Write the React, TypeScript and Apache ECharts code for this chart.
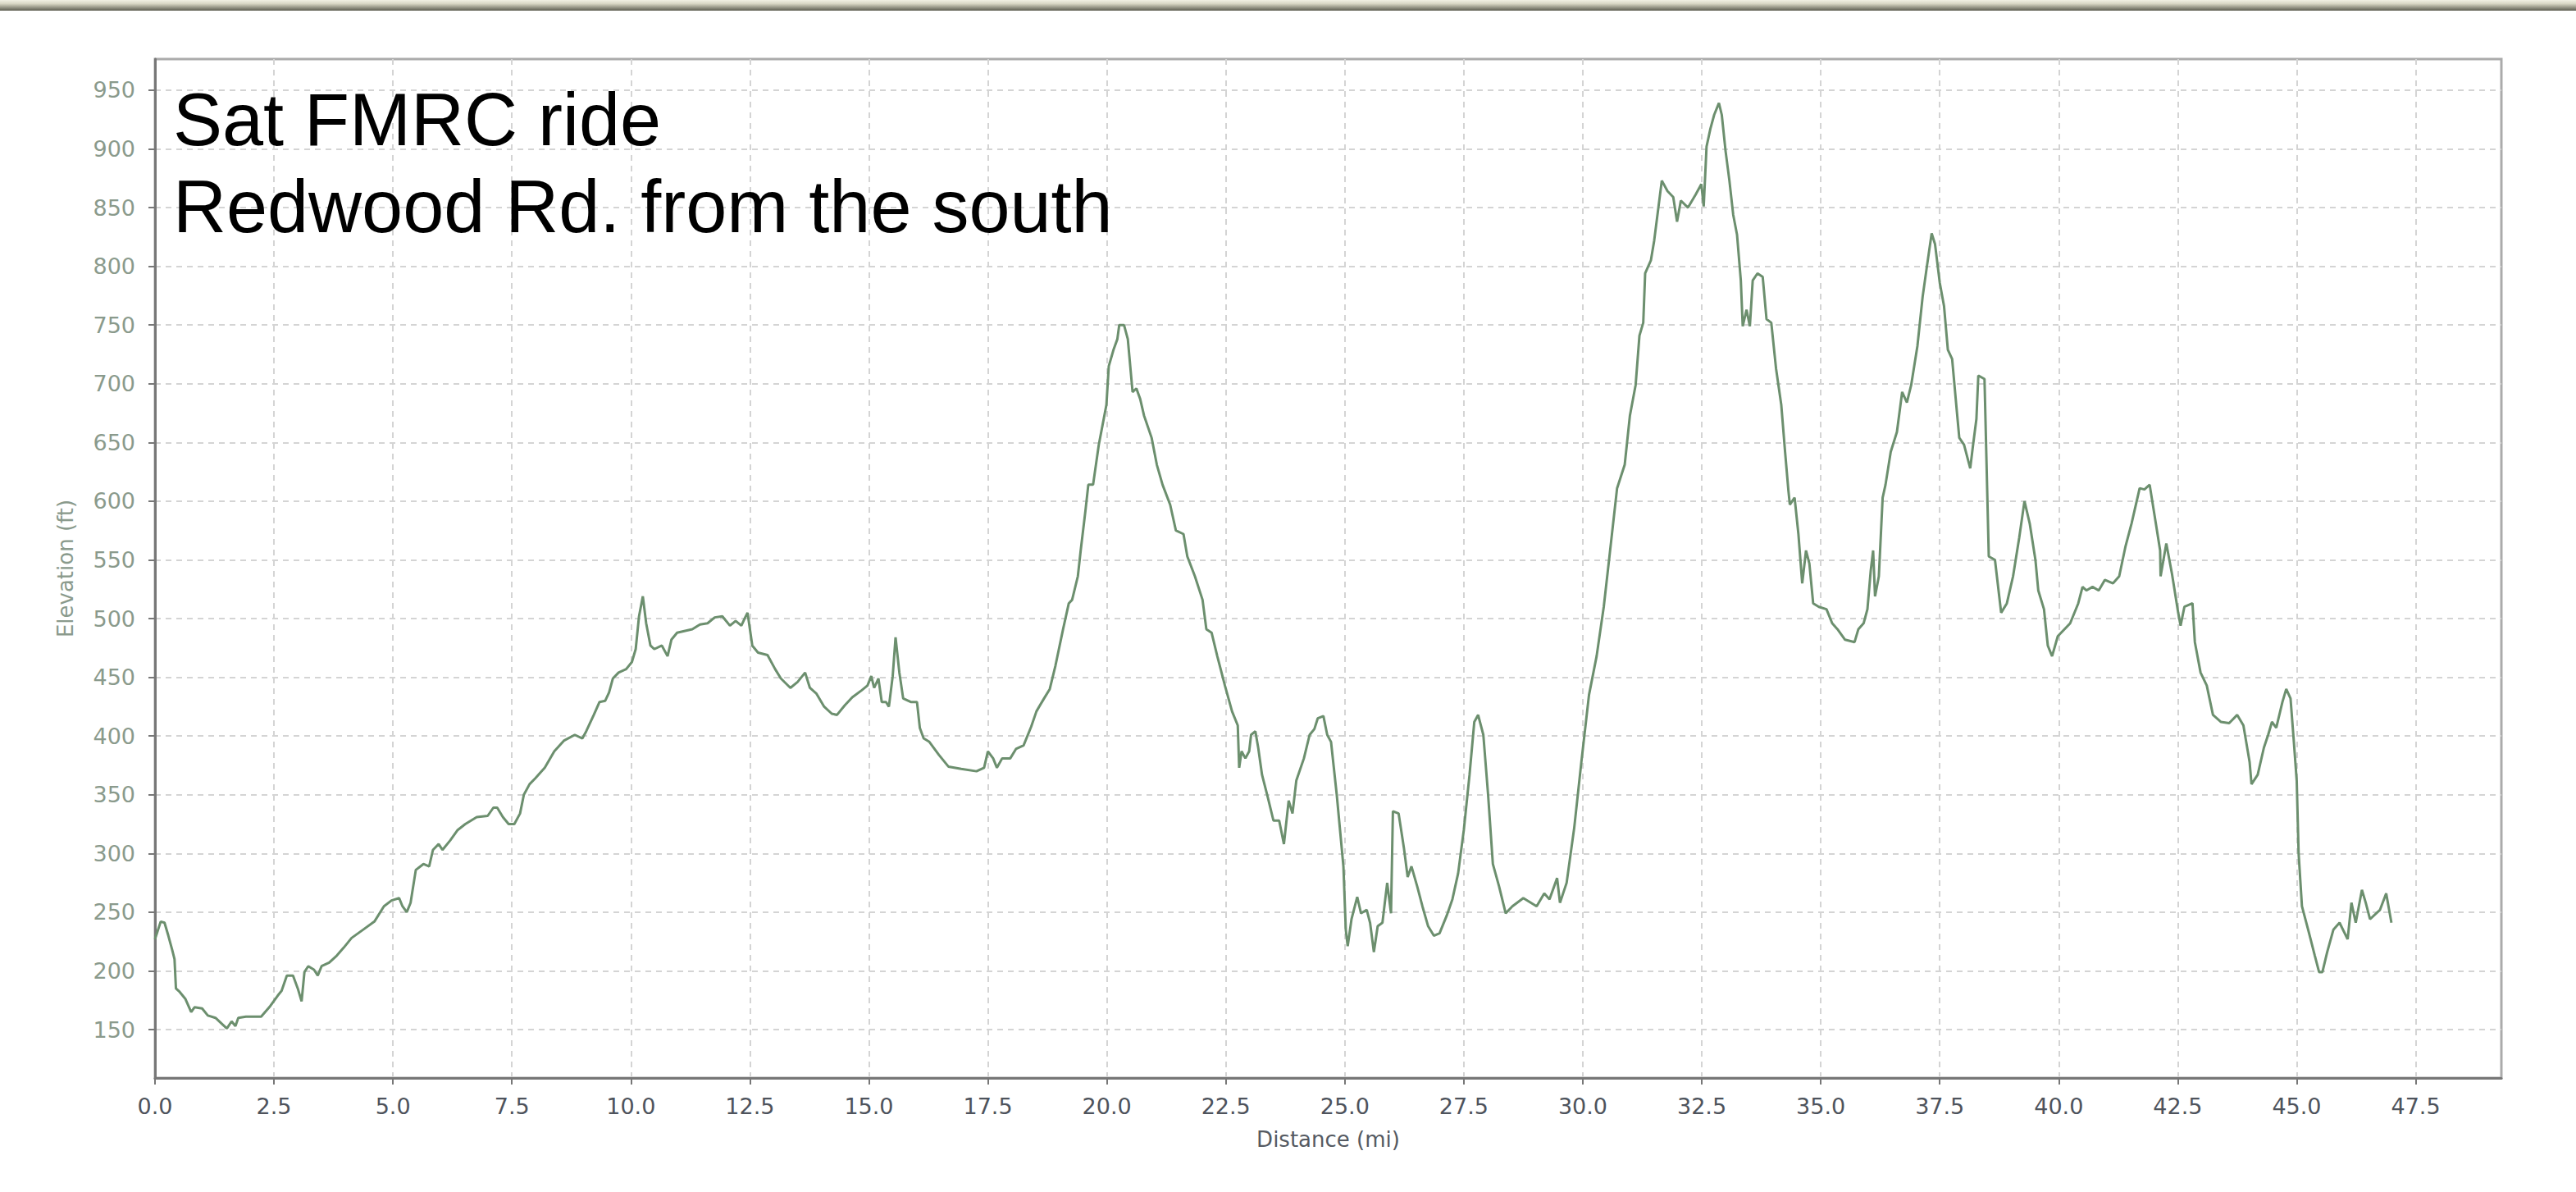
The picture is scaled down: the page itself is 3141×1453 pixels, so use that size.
import React, { useEffect, useRef } from 'react';
import * as echarts from 'echarts';

const titleLines = ['Sat FMRC ride', 'Redwood Rd. from the south'];
const xAxisTitle = 'Distance (mi)';
const yAxisTitle = 'Elevation (ft)';

const xTickValues = [0, 2.5, 5, 7.5, 10, 12.5, 15, 17.5, 20, 22.5, 25, 27.5, 30, 32.5, 35, 37.5, 40, 42.5, 45, 47.5];
const yTickValues = [150, 200, 250, 300, 350, 400, 450, 500, 550, 600, 650, 700, 750, 800, 850, 900, 950];

const distanceMi = [
  0, 0.12, 0.2, 0.28, 0.36, 0.41, 0.44, 0.52, 0.64, 0.76, 0.83, 0.99, 1.11, 1.27, 1.43, 1.51, 1.61, 1.69, 1.75, 1.91,
  2.23, 2.42, 2.58, 2.66, 2.77, 2.9, 3.0, 3.08, 3.14, 3.22, 3.34, 3.42, 3.5, 3.66, 3.82, 3.97, 4.13, 4.37, 4.61, 4.81,
  4.97, 5.13, 5.2, 5.29, 5.37, 5.48, 5.64, 5.76, 5.84, 5.96, 6.04, 6.2, 6.36, 6.52, 6.76, 6.99, 7.11, 7.19, 7.31, 7.43,
  7.55, 7.67, 7.75, 7.87, 7.99, 8.19, 8.39, 8.59, 8.82, 8.98, 9.06, 9.22, 9.34, 9.46, 9.54, 9.62, 9.74, 9.9, 10.02, 10.1,
  10.17, 10.25, 10.32, 10.41, 10.49, 10.65, 10.77, 10.85, 10.97, 11.29, 11.45, 11.61, 11.76, 11.92, 12.08, 12.2,
  12.32, 12.4, 12.45, 12.5, 12.55, 12.67, 12.87, 13.03, 13.15, 13.35, 13.5, 13.66, 13.76, 13.9, 14.06, 14.22, 14.33,
  14.49, 14.65, 14.85, 14.97, 15.05, 15.11, 15.2, 15.27, 15.36, 15.42, 15.5, 15.56, 15.64, 15.72, 15.88, 16.01, 16.07,
  16.15, 16.27, 16.47, 16.67, 16.94, 17.26, 17.42, 17.5, 17.61, 17.69, 17.8, 17.97, 18.09, 18.25, 18.41, 18.52, 18.68,
  18.8, 18.92, 19.08, 19.2, 19.27, 19.39, 19.45, 19.55, 19.61, 19.71, 19.83, 19.91, 19.99, 20.04, 20.14, 20.22, 20.26,
  20.36, 20.44, 20.54, 20.62, 20.7, 20.78, 20.94, 21.05, 21.17, 21.33, 21.45, 21.61, 21.69, 21.85, 22.01, 22.09, 22.2,
  22.32, 22.48, 22.63, 22.75, 22.78, 22.83, 22.91, 22.99, 23.03, 23.12, 23.18, 23.26, 23.38, 23.5, 23.62, 23.72, 23.82,
  23.9, 23.98, 24.14, 24.26, 24.36,
  24.43, 24.55, 24.63, 24.71, 24.83, 24.97, 25.02, 25.06, 25.14, 25.26, 25.34, 25.46, 25.53, 25.61, 25.69, 25.79, 25.89,
  25.97, 26.01, 26.13, 26.24, 26.32, 26.4, 26.52, 26.63, 26.75, 26.87, 26.99, 27.14, 27.26, 27.38, 27.5, 27.62, 27.72,
  27.8, 27.91, 28.01, 28.11, 28.24, 28.38, 28.52, 28.75, 29.03, 29.19, 29.3, 29.46, 29.52, 29.66, 29.82, 29.97, 30.13,
  30.29, 30.44, 30.56, 30.72, 30.88, 30.99, 31.11, 31.19, 31.27, 31.31, 31.43, 31.5, 31.66, 31.78, 31.9, 31.98, 32.06,
  32.21, 32.37, 32.49, 32.54, 32.6, 32.68, 32.76, 32.86, 32.92, 33.0, 33.08, 33.16, 33.24, 33.32, 33.36, 33.44, 33.51,
  33.57, 33.67, 33.78, 33.86, 33.96, 34.06, 34.17, 34.25, 34.32, 34.35, 34.45, 34.53, 34.61, 34.69, 34.76, 34.84, 34.96,
  35.12, 35.24, 35.35, 35.51, 35.71, 35.79, 35.9, 35.98, 36.05, 36.1, 36.14, 36.22, 36.3, 36.36,
  36.47, 36.6, 36.71, 36.81, 36.9, 37.03, 37.14, 37.23, 37.33, 37.4, 37.5, 37.59, 37.67, 37.76, 37.86, 37.91, 38.01,
  38.14, 38.2, 38.27, 38.31, 38.44, 38.53, 38.66, 38.79, 38.91, 39.04, 39.17, 39.28, 39.39, 39.51, 39.57, 39.69, 39.77,
  39.86, 39.98, 40.24, 40.41, 40.5, 40.58, 40.71, 40.84, 40.97, 41.14, 41.27, 41.4, 41.53, 41.7, 41.8, 41.91, 42.04,
  42.13, 42.14, 42.26, 42.38, 42.51, 42.56, 42.64, 42.81, 42.86, 42.98, 43.11, 43.24, 43.41, 43.58, 43.75, 43.88, 44.01,
  44.05, 44.18, 44.31, 44.4, 44.48, 44.57, 44.7, 44.78, 44.87, 44.94, 45.0, 45.04, 45.11, 45.26, 45.38, 45.47, 45.54,
  45.64, 45.77, 45.9, 46.07, 46.15, 46.24, 46.37, 46.45, 46.54, 46.67, 46.75, 46.88, 46.99,
];

const elevationFt = [
  227, 242, 241, 230, 218, 210, 185, 182, 176, 165, 169, 168, 162, 160, 154, 151, 157, 153, 160, 161,
  161, 170, 179, 183, 196, 196, 185, 174, 199, 204, 201, 196, 204, 207, 213, 220, 228, 235, 242, 255,
  260, 262, 255, 250, 258, 286, 291, 289, 303, 308, 303, 311, 320, 325, 331, 332, 339, 339, 331, 325,
  325, 334, 350, 359, 364, 373, 387, 396, 401, 398, 404, 418, 429, 430, 437, 449, 454, 457, 463, 474,
  502, 519, 496, 477, 474, 477, 468, 482, 488, 491, 495, 496, 501, 502, 494, 498,
  494, 501, 505, 491, 477, 471, 469, 457, 449, 441, 446, 454, 441, 436, 425, 419, 418,
  426, 433, 439, 443, 451, 441, 449, 429, 429, 425, 451, 484, 454, 432, 429, 429, 407,
  398, 395, 384, 374, 372, 370, 373, 387, 381, 373, 381, 381, 389, 392, 408, 421, 432,
  440, 460, 491, 513, 516, 536, 558, 592, 614, 614, 648, 665, 682, 715, 729, 738, 750,
  750, 738, 693, 696, 687, 673, 654, 631, 614, 597, 575, 572, 553, 536, 516, 491, 488,
  468, 443, 421, 409, 373, 387, 381, 387, 401, 404, 390, 367, 348, 328, 328, 308, 345,
  334, 362, 381, 401, 406,
  415, 417, 401, 395, 350, 289, 235, 221, 244, 263, 249, 252, 241, 216, 238, 241, 275,
  249, 336, 334, 305, 280, 289, 272, 255, 238, 230, 232, 247, 261, 283, 320, 367, 412,
  418, 401, 350, 291, 272, 249, 255, 262, 255, 266, 261, 279, 258, 275, 322, 378, 435,
  468, 510, 553, 611, 631, 673, 699, 741, 752, 794, 805, 822, 873, 864, 859, 838, 856,
  850, 861, 870, 851, 902, 917, 929, 939, 929, 898, 873, 844, 827, 788, 749, 763, 749,
  788, 794, 791, 755, 752, 713, 682, 642, 609, 597, 603, 572, 530, 558, 547, 513, 510,
  508, 496, 491, 482, 480, 491, 496, 508, 541, 558, 519, 536, 603, 614,
  642, 659, 693, 684, 699, 732, 774, 800, 828, 819, 786, 766, 729, 721, 676, 654, 648,
  628, 648, 670, 707, 704, 553, 550, 505, 513, 536, 569, 600, 581, 550, 524, 508, 477,
  468, 485, 496, 513, 527, 524, 527, 524, 533, 530, 536, 561, 581, 611, 610, 614, 581,
  558, 536, 564, 538, 505, 494, 510, 513, 480, 454, 443, 418, 412, 411, 418, 409, 378,
  359, 367, 390, 401, 412, 407, 429, 440, 432, 395, 362, 300, 255, 232, 213, 199, 199,
  216, 235, 241, 227, 258, 241, 269, 258, 244, 249, 252, 266, 241,
];

export default function App() {
  const ref = useRef<HTMLDivElement>(null);

  useEffect(() => {
    if (!ref.current) return;
    const chart = echarts.init(ref.current, undefined, { renderer: 'svg' });
    const seriesData = distanceMi.map((d, i) => [d, elevationFt[i]]);
    const labelFont = '"DejaVu Sans", sans-serif';

    chart.setOption({
      animation: false,
      backgroundColor: '#ffffff',
      title: {
        text: titleLines.join('\n'),
        left: 211,
        top: 93,
        padding: 0,
        textStyle: {
          fontFamily: '"Liberation Sans", Arial, sans-serif',
          fontWeight: 'normal',
          fontSize: 90,
          lineHeight: 106,
          color: '#000000',
        },
        z: 10,
      },
      graphic: [
        {
          type: 'rect',
          left: 0,
          top: 0,
          shape: { width: 3141, height: 13 },
          style: {
            fill: new echarts.graphic.LinearGradient(0, 0, 0, 1, [
              { offset: 0, color: '#f2f1e4' },
              { offset: 0.35, color: '#d8d6c4' },
              { offset: 1, color: '#5e5e52' },
            ]),
          },
          silent: true,
        },
      ],
      grid: {
        left: 189,
        top: 72,
        right: 91,
        bottom: 139,
        show: true,
        borderColor: '#ababab',
        borderWidth: 3,
        backgroundColor: '#ffffff',
      },
      xAxis: {
        type: 'value',
        min: 0,
        max: 49.3,
        interval: 2.5,
        name: xAxisTitle,
        nameLocation: 'middle',
        nameGap: 62,
        nameTextStyle: { color: '#555a62', fontSize: 26, fontFamily: labelFont },
        axisLine: { show: true, lineStyle: { color: '#777777', width: 3 } },
        axisTick: {
          show: true,
          length: 8,
          inside: false,
          customValues: xTickValues,
          lineStyle: { color: '#777777', width: 2 },
        },
        axisLabel: {
          customValues: xTickValues,
          showMinLabel: true,
          showMaxLabel: true,
          color: '#4e535c',
          fontSize: 27,
          fontFamily: labelFont,
          margin: 21,
          formatter: (v: number) => v.toFixed(1),
        },
        splitLine: { show: true, lineStyle: { color: '#d4d4d4', width: 2, type: [7, 6] } },
      },
      yAxis: {
        type: 'value',
        min: 108.8,
        max: 976.5,
        splitNumber: 17,
        name: yAxisTitle,
        nameLocation: 'middle',
        nameGap: 96,
        nameTextStyle: { color: '#8a9a8c', fontSize: 26, fontFamily: labelFont },
        axisLine: { show: true, lineStyle: { color: '#777777', width: 3 } },
        axisTick: {
          show: true,
          length: 8,
          inside: false,
          customValues: yTickValues,
          lineStyle: { color: '#777777', width: 2 },
        },
        axisLabel: {
          customValues: yTickValues,
          showMinLabel: true,
          showMaxLabel: true,
          color: '#8a9a8c',
          fontSize: 27,
          fontFamily: labelFont,
          margin: 24,
          formatter: (v: number) => String(v),
        },
        splitLine: { show: true, lineStyle: { color: '#d4d4d4', width: 2, type: [7, 6] } },
      },
      series: [
        {
          type: 'line',
          data: seriesData,
          showSymbol: false,
          symbol: 'none',
          silent: true,
          lineStyle: { color: '#6c8f6e', width: 3 },
          z: 5,
        },
      ],
    });

    return () => chart.dispose();
  }, []);

  return (
    <div
      ref={ref}
      style={{ position: 'absolute', left: 0, top: 0, width: 3141, height: 1453 }}
    />
  );
}
